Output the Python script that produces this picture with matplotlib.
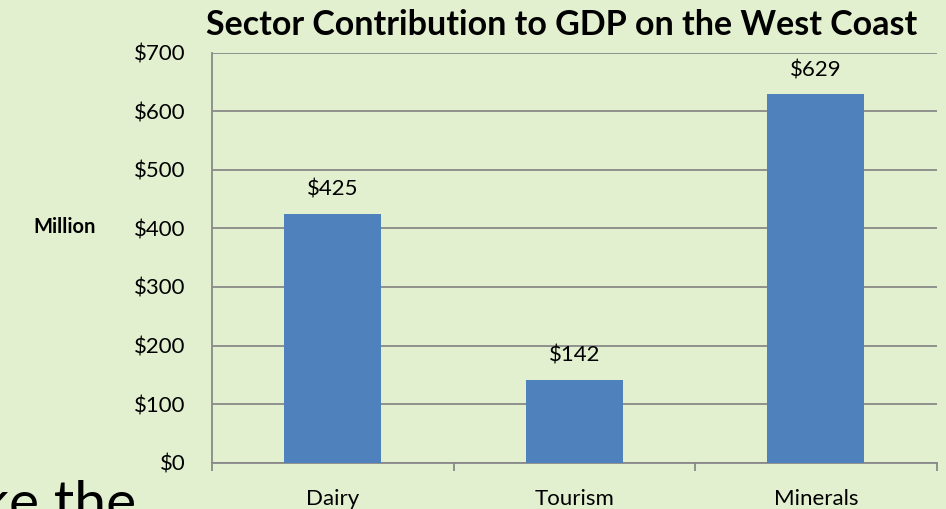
import matplotlib.pyplot as plt

sectors = ["Dairy", "Tourism", "Minerals"]
gdp_million = [425, 142, 629]
y_ticks = [0, 100, 200, 300, 400, 500, 600, 700]

bg = "#E3F0CF"
bar_color = "#4F81BD"
grid_color = "#898989"

plt.rcParams["font.family"] = ["Lato", "DejaVu Sans"]

fig = plt.figure(figsize=(9.46, 5.09), dpi=100, facecolor=bg)
ax = fig.add_axes([212 / 946, 46.3 / 509, 724.5 / 946, 410 / 509])
ax.set_facecolor(bg)

x = range(len(sectors))
bars = ax.bar(x, gdp_million, width=0.4, color=bar_color, zorder=3)

for b, v in zip(bars, gdp_million):
    ax.annotate(f"${v}", (b.get_x() + b.get_width() / 2, v),
                xytext=(0, 10), textcoords="offset points",
                ha="center", va="bottom", fontsize=16, color="black")

ax.set_ylim(0, 700)
ax.set_xlim(-0.5, 2.5)
ax.set_yticks(y_ticks)
ax.set_yticklabels([f"${t}" for t in y_ticks], fontsize=16)
ax.tick_params(axis="y", length=0, pad=19)
ax.yaxis.grid(True, color=grid_color, linewidth=1.3, zorder=0)

# category labels centered, tick marks on the category boundaries
ax.set_xticks([-0.5, 0.5, 1.5, 2.5])
ax.set_xticklabels([])
ax.set_xticks(list(x), minor=True)
ax.set_xticklabels(sectors, minor=True, fontsize=16)
ax.tick_params(axis="x", which="major", length=6, width=1.3, color=grid_color, direction="out")
ax.tick_params(axis="x", which="minor", length=0, pad=19)

for side in ["top", "right"]:
    ax.spines[side].set_visible(False)
for side in ["left", "bottom"]:
    ax.spines[side].set_color(grid_color)
    ax.spines[side].set_linewidth(1.3)

fig.text(562 / 946, 1 - 25 / 509, "Sector Contribution to GDP on the West Coast",
         ha="center", va="center", fontsize=24.5, fontweight="bold")
fig.text(65 / 946, 1 - 227 / 509, "Million", ha="center", va="center",
         fontsize=14.5, fontweight="bold")

# slide text cut off by the screenshot
fig.text(136 / 946, -12 / 509, "ke the", ha="right", va="baseline", fontsize=41)

fig.savefig("out.png", dpi=100, facecolor=bg)
